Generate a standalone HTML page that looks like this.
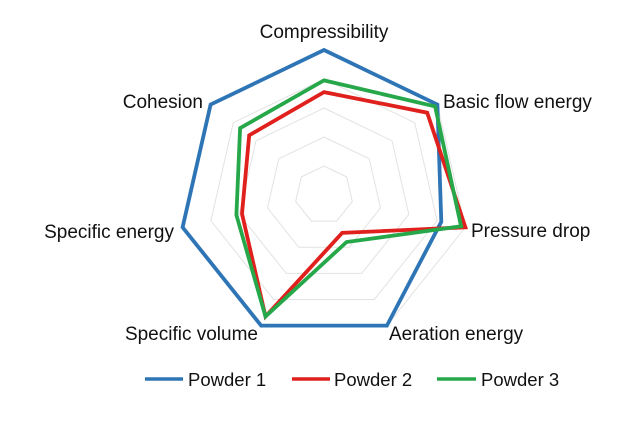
<!DOCTYPE html>
<html><head><meta charset="utf-8"><style>
html,body{margin:0;padding:0;background:#fff;}
svg{display:block;font-family:"Liberation Sans",Arial,sans-serif;}
</style></head><body>
<svg id="s" width="640" height="427" viewBox="0 0 640 427">
<g id="grid" fill="none" stroke="#e2e2e2" stroke-width="1"></g>
<g id="series" fill="none" stroke-width="3.8" stroke-linejoin="miter"></g>
<g font-size="19" fill="#111">
<text x="324" y="38" text-anchor="middle">Compressibility</text>
<text x="443" y="108">Basic flow energy</text>
<text x="471" y="237">Pressure drop</text>
<text x="389" y="340">Aeration energy</text>
<text x="258" y="340" text-anchor="end">Specific volume</text>
<text x="174" y="238" text-anchor="end">Specific energy</text>
<text x="203" y="108" text-anchor="end">Cohesion</text>
</g>
<g stroke-width="3.5">
<line x1="145" y1="379" x2="183" y2="379" stroke="#2e75b6"/>
<line x1="292" y1="379" x2="330" y2="379" stroke="#e0201c"/>
<line x1="437" y1="379" x2="476" y2="379" stroke="#26a84a"/>
</g>
<g font-size="18.5" fill="#111">
<text x="188" y="386">Powder 1</text>
<text x="334" y="386">Powder 2</text>
<text x="481" y="386">Powder 3</text>
</g>
</svg>
<script>
var cx=324,cy=195,R=145,NS="http://www.w3.org/2000/svg";
function pts(v){return v.map(function(r,i){var a=(-90+i*360/7)*Math.PI/180;return (cx+R*r*Math.cos(a)).toFixed(1)+","+(cy+R*r*Math.sin(a)).toFixed(1);}).join(" ");}
var g=document.getElementById("grid");
[0.2,0.4,0.6,0.8,1].forEach(function(l){var p=document.createElementNS(NS,"polygon");p.setAttribute("points",pts([l,l,l,l,l,l,l]));g.appendChild(p);});
var S=[["#2e75b6",[1,1,0.83,1,1,1,1]],["#e0201c",[0.71,0.91,1.0,0.29,0.93,0.58,0.66]],["#26a84a",[0.79,0.98,0.97,0.36,0.93,0.62,0.74]]];
var sg=document.getElementById("series");
S.forEach(function(s){var p=document.createElementNS(NS,"polygon");p.setAttribute("points",pts(s[1]));p.setAttribute("stroke",s[0]);sg.appendChild(p);});
</script>
</body></html>
